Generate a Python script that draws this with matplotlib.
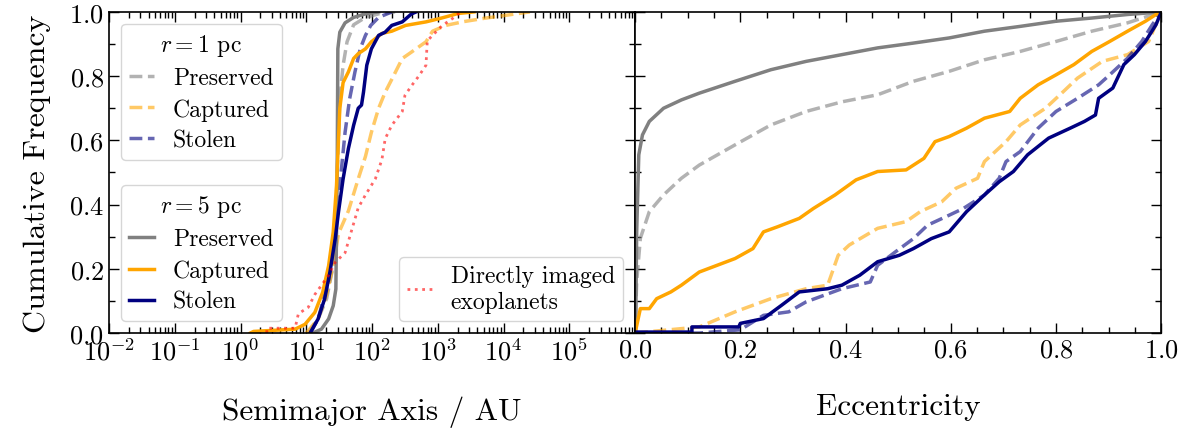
import numpy as np
import matplotlib
matplotlib.use("Agg")
import matplotlib.pyplot as plt
from matplotlib.ticker import LogLocator, MultipleLocator, NullFormatter

plt.rcParams['font.family'] = 'serif'
plt.rcParams['font.serif'] = ['cmr10']
plt.rcParams['mathtext.fontset'] = 'cm'
plt.rcParams['axes.formatter.use_mathtext'] = True
plt.rcParams['axes.unicode_minus'] = True

# ---- semimajor axis CDFs (log10 a / AU, cumulative frequency) ----
loga_pres_r5 = [1.10, 1.23, 1.34, 1.41, 1.45, 1.47, 1.48, 1.51, 1.59, 1.72, 1.90, 2.10]
cdfa_pres_r5 = [0.0, 0.012, 0.044, 0.085, 0.137, 0.50, 0.885, 0.937, 0.966, 0.983, 0.994, 1.0]

loga_pres_r1 = [1.03, 1.18, 1.31, 1.39, 1.44, 1.51, 1.56, 1.62, 1.72, 1.90, 2.10, 2.35]
cdfa_pres_r1 = [0.0, 0.044, 0.107, 0.19, 0.315, 0.73, 0.834, 0.907, 0.96, 0.983, 0.994, 1.0]

loga_capt_r5 = [0.15, 0.20, 0.83, 0.98, 1.13, 1.25, 1.34, 1.41, 1.46, 1.49, 1.51, 1.56,
                1.64, 1.72, 1.79, 1.90, 1.99, 2.15, 2.30, 2.51, 2.82, 3.02, 3.22, 3.30, 3.55]
cdfa_capt_r5 = [0.0, 0.005, 0.012, 0.027, 0.064, 0.127, 0.21, 0.315, 0.46, 0.605, 0.70, 0.78,
                0.813, 0.855, 0.87, 0.885, 0.907, 0.933, 0.94, 0.958, 0.969, 0.979, 0.99, 0.995, 1.0]

loga_capt_r1 = [1.00, 1.18, 1.31, 1.42, 1.49, 1.64, 1.79, 1.90, 1.99, 2.10, 2.20, 2.30, 2.46,
                2.60, 2.82, 2.92, 3.12, 3.40, 3.70, 4.05, 4.40]
cdfa_capt_r1 = [0.0, 0.044, 0.12, 0.22, 0.31, 0.38, 0.48, 0.55, 0.625, 0.70, 0.75, 0.79, 0.855,
                0.875, 0.907, 0.94, 0.958, 0.97, 0.98, 0.99, 1.0]

loga_stol_r5 = [1.06, 1.18, 1.28, 1.36, 1.44, 1.49, 1.56, 1.64, 1.72, 1.79, 1.84, 1.87, 1.92,
                1.99, 2.10, 2.20, 2.30, 2.46, 2.60, 2.67]
cdfa_stol_r5 = [0.0, 0.044, 0.107, 0.19, 0.294, 0.377, 0.48, 0.574, 0.647, 0.70, 0.71, 0.75,
                0.834, 0.885, 0.927, 0.937, 0.958, 0.969, 0.994, 1.0]

loga_stol_r1 = [1.06, 1.18, 1.34, 1.44, 1.51, 1.59, 1.66, 1.74, 1.82, 1.90, 1.98, 2.10, 2.30]
cdfa_stol_r1 = [0.0, 0.044, 0.165, 0.315, 0.46, 0.625, 0.73, 0.813, 0.885, 0.927, 0.958, 0.983, 1.0]

loga_imaged = [0.40, 0.40, 0.83, 0.88, 1.03, 1.13, 1.34, 1.44, 1.59, 1.69, 1.79, 1.90, 2.05,
               2.15, 2.20, 2.30, 2.46, 2.50, 2.60, 2.71, 2.82, 2.84, 2.92, 3.07, 3.22, 3.35]
cdfa_imaged = [0.0, 0.015, 0.015, 0.06, 0.08, 0.12, 0.18, 0.22, 0.25, 0.32, 0.39, 0.43, 0.48,
               0.54, 0.605, 0.647, 0.69, 0.74, 0.77, 0.80, 0.834, 0.91, 0.927, 0.958, 0.979, 1.0]

# ---- eccentricity CDFs ----
ecc_pres_r5 = [0.0, 0.001, 0.003, 0.007, 0.014, 0.027, 0.054, 0.088, 0.122, 0.19, 0.258, 0.325,
               0.393, 0.461, 0.529, 0.597, 0.664, 0.732, 0.80, 0.868, 0.936, 1.0]
cdfe_pres_r5 = [0.0, 0.003, 0.315, 0.555, 0.617, 0.659, 0.70, 0.726, 0.747, 0.784, 0.82, 0.846,
                0.867, 0.888, 0.903, 0.919, 0.94, 0.955, 0.971, 0.981, 0.992, 1.0]

ecc_pres_r1 = [0.0, 0.003, 0.01, 0.027, 0.054, 0.088, 0.122, 0.19, 0.258, 0.325, 0.393, 0.461,
               0.529, 0.597, 0.664, 0.732, 0.80, 0.868, 0.936, 1.0]
cdfe_pres_r1 = [0.0, 0.16, 0.295, 0.378, 0.43, 0.482, 0.523, 0.586, 0.648, 0.69, 0.72, 0.742,
                0.784, 0.815, 0.851, 0.877, 0.908, 0.94, 0.966, 1.0]

ecc_capt_r5 = [0.0, 0.01, 0.027, 0.041, 0.068, 0.088, 0.122, 0.156, 0.19, 0.224, 0.244, 0.271,
               0.312, 0.339, 0.38, 0.42, 0.461, 0.515, 0.549, 0.57, 0.597, 0.63, 0.664, 0.712,
               0.732, 0.766, 0.80, 0.834, 0.868, 0.902, 0.936, 0.97, 0.99, 1.0]
cdfe_capt_r5 = [0.0, 0.076, 0.076, 0.107, 0.128, 0.149, 0.19, 0.211, 0.232, 0.263, 0.315, 0.331,
                0.357, 0.388, 0.43, 0.477, 0.503, 0.508, 0.544, 0.596, 0.612, 0.638, 0.669, 0.69,
                0.731, 0.773, 0.804, 0.836, 0.877, 0.908, 0.94, 0.971, 0.992, 1.0]

ecc_capt_r1 = [0.0, 0.122, 0.19, 0.258, 0.325, 0.366, 0.386, 0.407, 0.461, 0.515, 0.542, 0.583,
               0.61, 0.651, 0.664, 0.705, 0.732, 0.78, 0.814, 0.841, 0.888, 0.936, 0.976, 1.0]
cdfe_capt_r1 = [0.0, 0.019, 0.066, 0.107, 0.138, 0.149, 0.242, 0.274, 0.326, 0.347, 0.378, 0.409,
                0.451, 0.482, 0.534, 0.596, 0.648, 0.70, 0.752, 0.794, 0.846, 0.867, 0.908, 1.0]

ecc_stol_r5 = [0.0, 0.108, 0.108, 0.197, 0.20, 0.244, 0.278, 0.312, 0.366, 0.393, 0.427, 0.461,
               0.502, 0.529, 0.563, 0.597, 0.63, 0.664, 0.692, 0.719, 0.746, 0.786, 0.827, 0.854,
               0.875, 0.881, 0.908, 0.929, 0.949, 0.97, 0.99, 1.0]
cdfe_stol_r5 = [0.003, 0.003, 0.019, 0.019, 0.03, 0.045, 0.086, 0.128, 0.138, 0.149, 0.18, 0.222,
                0.242, 0.263, 0.294, 0.315, 0.378, 0.43, 0.471, 0.503, 0.555, 0.607, 0.638, 0.659,
                0.679, 0.731, 0.763, 0.836, 0.867, 0.908, 0.96, 1.0]

ecc_stol_r1 = [0.0, 0.122, 0.20, 0.244, 0.292, 0.325, 0.393, 0.447, 0.461, 0.495, 0.529, 0.556,
               0.597, 0.624, 0.664, 0.692, 0.705, 0.732, 0.766, 0.80, 0.841, 0.881, 0.902, 0.936,
               0.963, 0.983, 1.0]
cdfe_stol_r1 = [0.0, 0.0, 0.01, 0.055, 0.066, 0.097, 0.138, 0.159, 0.211, 0.253, 0.294, 0.336,
                0.367, 0.388, 0.43, 0.482, 0.534, 0.565, 0.638, 0.69, 0.731, 0.773, 0.804, 0.856,
                0.908, 0.96, 1.0]

labels = ['Preserved', 'Captured', 'Stolen']
colors = ['grey', 'orange', 'navy']
lw = 2.5

fig, (ax1, ax2) = plt.subplots(1, 2, figsize=(11.91, 4.31), dpi=100, sharey=True)
fig.subplots_adjust(left=0.0915, right=0.975, top=0.97, bottom=0.225, wspace=0)

# left: semimajor axis
r1_lines = []
for (x, y), c, lab in zip([(loga_pres_r1, cdfa_pres_r1), (loga_capt_r1, cdfa_capt_r1),
                           (loga_stol_r1, cdfa_stol_r1)], colors, labels):
    l, = ax1.plot(10**np.array(x), y, color=c, ls='--', lw=lw, alpha=0.6, label=lab)
    r1_lines.append(l)
r5_lines = []
for (x, y), c, lab in zip([(loga_pres_r5, cdfa_pres_r5), (loga_capt_r5, cdfa_capt_r5),
                           (loga_stol_r5, cdfa_stol_r5)], colors, labels):
    l, = ax1.plot(10**np.array(x), y, color=c, ls='-', lw=lw, label=lab)
    r5_lines.append(l)
im_line, = ax1.plot(10**np.array(loga_imaged), cdfa_imaged, color='red', ls=':', lw=2,
                    alpha=0.6, label='Directly imaged\nexoplanets')

ax1.set_xscale('log')
ax1.set_xlim(1e-2, 1e6)
ax1.set_xticks([1e-2, 1e-1, 1e0, 1e1, 1e2, 1e3, 1e4, 1e5])
ax1.xaxis.set_minor_locator(LogLocator(base=10, subs=np.arange(2, 10), numticks=100))
ax1.xaxis.set_minor_formatter(NullFormatter())
ax1.set_ylim(0, 1)
ax1.yaxis.set_major_locator(MultipleLocator(0.2))
ax1.yaxis.set_minor_locator(MultipleLocator(0.1))
ax1.set_xlabel('Semimajor Axis / AU', fontsize=22.5, labelpad=22)
ax1.set_ylabel('Cumulative Frequency', fontsize=23, labelpad=13)

leg_kw = dict(fontsize=17, title_fontsize=17, handlelength=1.05, handletextpad=0.8,
              borderaxespad=0.5, labelspacing=0.38, borderpad=0.35)
leg1 = ax1.legend(handles=r1_lines, title='$r = 1$ pc', loc='upper left', **leg_kw)
leg2 = ax1.legend(handles=r5_lines, title='$r = 5$ pc', loc='lower left', **leg_kw)
ax1.add_artist(leg1)
leg3 = ax1.legend(handles=[im_line], loc='lower right', **leg_kw)
ax1.add_artist(leg2)

# right: eccentricity
for (x, y), c in zip([(ecc_pres_r1, cdfe_pres_r1), (ecc_capt_r1, cdfe_capt_r1),
                      (ecc_stol_r1, cdfe_stol_r1)], colors):
    ax2.plot(x, y, color=c, ls='--', lw=lw, alpha=0.6)
for (x, y), c in zip([(ecc_pres_r5, cdfe_pres_r5), (ecc_capt_r5, cdfe_capt_r5),
                      (ecc_stol_r5, cdfe_stol_r5)], colors):
    ax2.plot(x, y, color=c, ls='-', lw=lw)
ax2.set_xlim(0, 1)
ax2.xaxis.set_major_locator(MultipleLocator(0.2))
ax2.xaxis.set_minor_locator(MultipleLocator(0.05))
ax2.set_xlabel('Eccentricity', fontsize=22.5, labelpad=22)

for ax in (ax1, ax2):
    ax.tick_params(which='both', direction='in', top=True, right=True, labelsize=19)
    ax.tick_params(which='major', length=7, width=1)
    ax.tick_params(which='minor', length=4, width=1)
    for s in ax.spines.values():
        s.set_linewidth(1.2)
ax2.tick_params(labelleft=False)

fig.savefig('out.png', dpi=100)
